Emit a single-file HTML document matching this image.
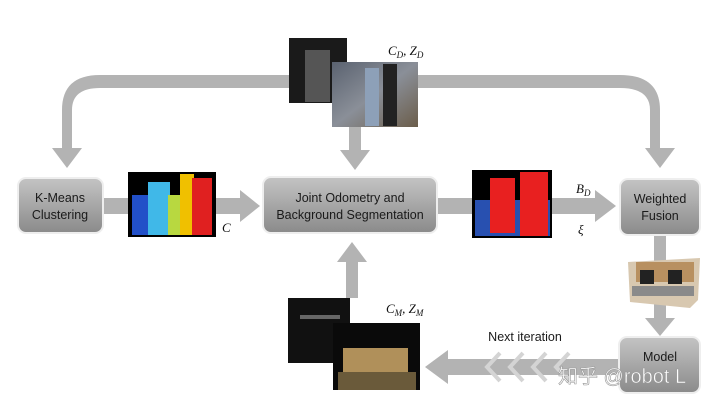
<!DOCTYPE html>
<html><head><meta charset="utf-8"><style>
html,body{margin:0;padding:0;background:#fff;}
svg{display:block;font-family:"Liberation Sans","Noto Sans CJK SC",sans-serif;}
</style></head><body>
<svg width="720" height="406" viewBox="0 0 720 406" xmlns="http://www.w3.org/2000/svg">
<defs>
<linearGradient id="bx" x1="0" y1="0" x2="0" y2="1">
<stop offset="0" stop-color="#c4c4c4"/><stop offset="1" stop-color="#8a8a8a"/></linearGradient>
<linearGradient id="rg" x1="0" y1="0" x2="1" y2="1">
<stop offset="0" stop-color="#5a6270"/><stop offset="0.5" stop-color="#8a8f98"/><stop offset="1" stop-color="#6b5d4a"/></linearGradient>
</defs>
<g fill="#b3b3b3">
<path d="M62,150 L62,110 Q62,75 100,75 L620,75 Q660,75 660,110 L660,150 L650,150 L650,110 Q650,88 620,88 L100,88 Q72,88 72,110 L72,150 Z"/>
<polygon points="52,148 82,148 67,168"/>
<polygon points="645,148 675,148 660,168"/>
<rect x="349" y="127" width="12" height="26"/><polygon points="340,150 370,150 355,170"/>
<rect x="346" y="258" width="12" height="40"/><polygon points="337,262 367,262 352,242"/>
<rect x="103" y="198" width="30" height="16"/>
<rect x="215" y="198" width="30" height="16"/><polygon points="240,190 240,222 260,206"/>
<rect x="437" y="198" width="40" height="16"/>
<rect x="552" y="198" width="46" height="16"/><polygon points="595,190 595,222 616,206"/>
<rect x="654" y="235" width="12" height="90"/><polygon points="645,318 675,318 660,336"/>
<rect x="445" y="359" width="175" height="16"/><polygon points="448,350 448,384 425,367"/>
</g>
<g fill="none" stroke="#d4d4d4" stroke-width="4">
<polyline points="500,353 487,367 500,381"/><polyline points="523,353 510,367 523,381"/>
<polyline points="546,353 533,367 546,381"/><polyline points="569,353 556,367 569,381"/>
</g>
<g stroke="#eeeeee" stroke-width="2" fill="url(#bx)">
<rect x="18" y="178" width="85" height="55" rx="8"/>
<rect x="263" y="177" width="174" height="56" rx="8"/>
<rect x="620" y="179" width="80" height="56" rx="8"/>
<rect x="619" y="337" width="81" height="56" rx="8"/>
</g>
<g font-size="12.5" fill="#1a1a1a" text-anchor="middle">
<text x="60" y="202">K-Means</text><text x="60" y="219">Clustering</text>
<text x="350" y="202">Joint Odometry and</text><text x="350" y="219">Background Segmentation</text>
<text x="660" y="203">Weighted</text><text x="660" y="220">Fusion</text>
<text x="660" y="361">Model</text>
<text x="525" y="341">Next iteration</text>
</g>
<rect x="289" y="38" width="58" height="65" fill="#1a1a1a"/>
<rect x="305" y="50" width="25" height="52" fill="#555"/>
<rect x="332" y="62" width="86" height="65" fill="url(#rg)"/>
<rect x="365" y="68" width="14" height="58" fill="#8da0b8"/><rect x="383" y="64" width="14" height="62" fill="#222"/>
<rect x="128" y="172" width="88" height="65" fill="#000"/>
<rect x="132" y="195" width="18" height="40" fill="#2250c8"/>
<rect x="148" y="182" width="22" height="53" fill="#40b8e8"/>
<rect x="168" y="195" width="14" height="40" fill="#b8d840"/>
<rect x="180" y="174" width="14" height="61" fill="#f0c000"/>
<rect x="192" y="178" width="20" height="57" fill="#e02020"/>
<rect x="472" y="170" width="80" height="68" fill="#000"/>
<rect x="475" y="200" width="75" height="36" fill="#2850b0"/>
<rect x="490" y="178" width="25" height="55" fill="#e82020"/>
<rect x="520" y="172" width="28" height="64" fill="#e82020"/>
<polygon points="628,262 700,258 698,300 690,308 630,302" fill="#d8c8b0"/>
<rect x="636" y="262" width="58" height="20" fill="#b89060"/>
<rect x="640" y="270" width="14" height="14" fill="#222"/><rect x="668" y="270" width="14" height="14" fill="#222"/>
<rect x="632" y="286" width="62" height="10" fill="#8a8a8a"/>
<rect x="288" y="298" width="62" height="65" fill="#111"/>
<rect x="300" y="315" width="40" height="4" fill="#666"/>
<rect x="333" y="323" width="87" height="67" fill="#0a0a0a"/>
<rect x="343" y="348" width="65" height="28" fill="#b0905a"/>
<rect x="338" y="372" width="78" height="18" fill="#6a5a3a"/>
<g font-family="'Liberation Serif',serif" font-style="italic" font-size="13" fill="#111">
<text x="388" y="55">C<tspan font-size="9" dy="3">D</tspan><tspan dy="-3">, Z</tspan><tspan font-size="9" dy="3">D</tspan></text>
<text x="222" y="232">C</text>
<text x="576" y="193">B<tspan font-size="9" dy="3">D</tspan></text>
<text x="578" y="234">ξ</text>
<text x="386" y="313">C<tspan font-size="9" dy="3">M</tspan><tspan dy="-3">, Z</tspan><tspan font-size="9" dy="3">M</tspan></text>
</g>
<text x="558" y="383" font-size="20" fill="#fff" stroke="#999" stroke-width="0.6" font-family="'Liberation Sans','Noto Sans CJK SC',sans-serif">知乎 @robot L</text>
</svg>
</body></html>
